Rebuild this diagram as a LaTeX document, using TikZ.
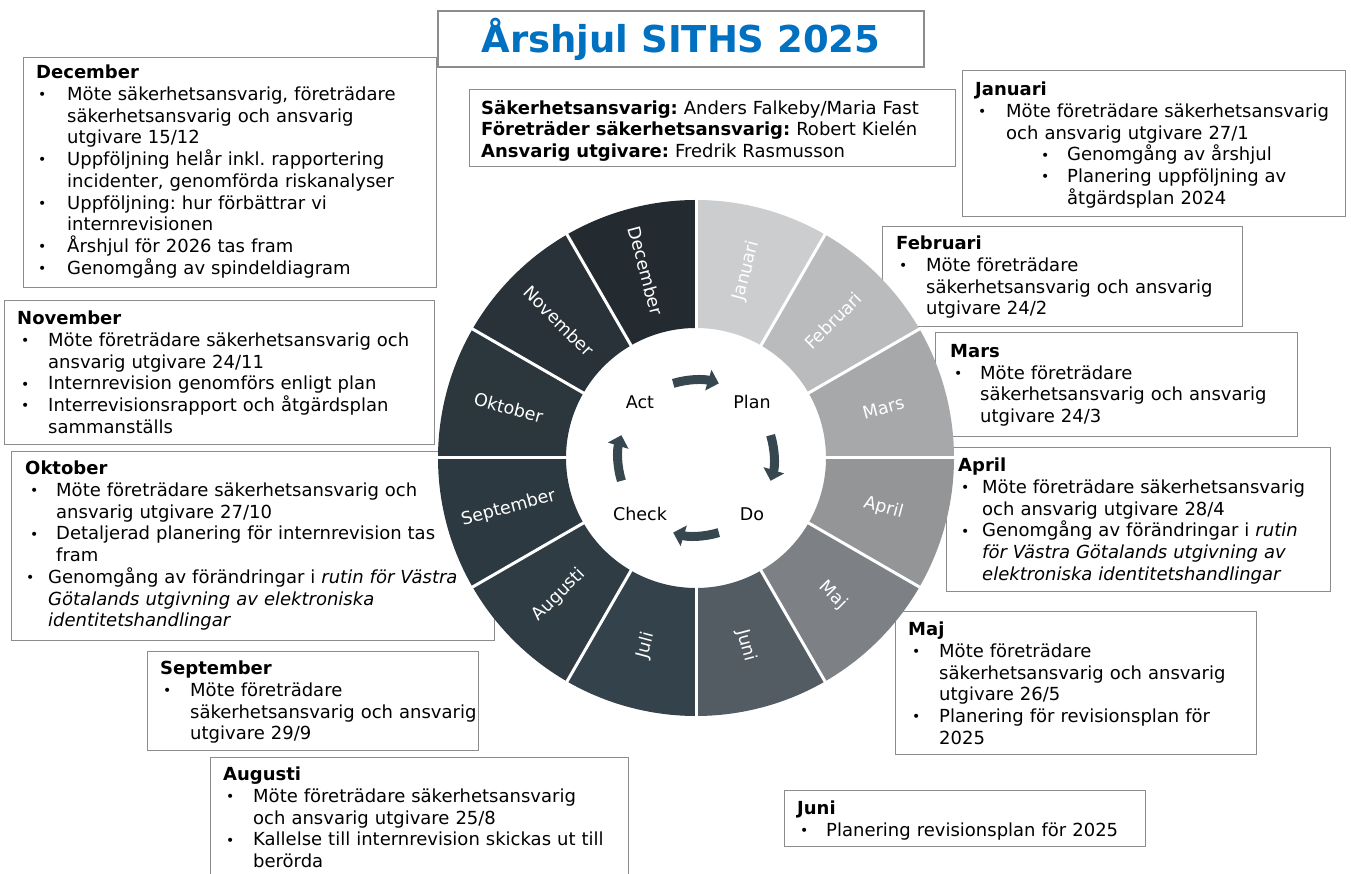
\documentclass[tikz,border=0pt]{standalone}
\usepackage{fontspec}
\setmainfont{DejaVu Sans}
\usetikzlibrary{arrows.meta}

\definecolor{titleblue}{HTML}{0070C0}
\definecolor{boxgray}{HTML}{8C8C8C}
\definecolor{cycdark}{HTML}{37474F}
\definecolor{mjan}{HTML}{CBCDCF}
\definecolor{mfeb}{HTML}{B9BBBD}
\definecolor{mmar}{HTML}{A6A8AA}
\definecolor{mapr}{HTML}{939597}
\definecolor{mmaj}{HTML}{7D8185}
\definecolor{mjun}{HTML}{535B63}
\definecolor{mjul}{HTML}{34424B}
\definecolor{maug}{HTML}{2F3C44}
\definecolor{msep}{HTML}{2D3940}
\definecolor{mokt}{HTML}{2B363D}
\definecolor{mnov}{HTML}{283238}
\definecolor{mdec}{HTML}{232B30}

\frenchspacing
\newcommand{\bodyfont}{\fontsize{18}{21.7}\selectfont}
\newcommand{\smallbul}{\raisebox{0.8pt}{\fontsize{14}{14}\selectfont\textbullet}}
\newcommand{\mhead}[1]{\noindent\textbf{#1}\par}
\newcommand{\mitem}[3]{\noindent\hangindent=#2pt\hangafter=1\hspace*{#1pt}\makebox[\dimexpr#2pt-#1pt\relax][l]{\smallbul}#3\par}

\begin{document}
\begin{tikzpicture}[x=1pt, y=1pt,
  mbox/.style={draw=boxgray, line width=1.3pt, fill=white, inner sep=0pt},
  mtext/.style={anchor=north west, inner sep=0pt, text width=#1, font=\bodyfont},
  monthlbl/.style={text=white, font=\fontsize{17.5}{20}\selectfont, inner sep=0pt},
  phase/.style={font=\fontsize{17.5}{20}\selectfont, inner sep=0pt},
  cyc/.style={cycdark, line width=9pt, -{Triangle[width=21pt,length=11pt]}}]
\useasboundingbox (0,0) rectangle (1351,874);

% title
\node[mbox, minimum width=486pt, minimum height=56pt, text=titleblue,
  font=\fontsize{37}{40}\selectfont\bfseries] (title) at (681,835) {Årshjul SITHS 2025};

% roles
\node[mbox, anchor=north west, minimum width=486pt, minimum height=77pt] (roles) at (469,785) {};
\node[mtext=470pt] (rolestxt) at (481,774) {\noindent\textbf{Säkerhetsansvarig:} Anders Falkeby/Maria Fast\newline
  \textbf{Företräder säkerhetsansvarig:} Robert Kielén\newline
  \textbf{Ansvarig utgivare:} Fredrik Rasmusson};

% left boxes
\node[mbox, anchor=north west, minimum width=413pt, minimum height=230pt] (decbox) at (23,817) {};
\node[mtext=406pt] (dectxt) at (36,809) {\mhead{December}
  \mitem{2}{31}{Möte säkerhetsansvarig, företrädare\newline säkerhetsansvarig och ansvarig\newline utgivare 15/12}
  \mitem{2}{31}{Uppföljning helår inkl. rapportering\newline incidenter, genomförda riskanalyser}
  \mitem{2}{31}{Uppföljning: hur förbättrar vi\newline internrevisionen}
  \mitem{2}{31}{Årshjul för 2026 tas fram}
  \mitem{2}{31}{Genomgång av spindeldiagram}};

\node[mbox, anchor=north west, minimum width=430pt, minimum height=144pt] (novbox) at (4,574) {};
\node[mtext=423pt] (novtxt) at (17,563) {\mhead{November}
  \mitem{4}{31}{Möte företrädare säkerhetsansvarig och\newline ansvarig utgivare 24/11}
  \mitem{4}{31}{Internrevision genomförs enligt plan}
  \mitem{4}{31}{Interrevisionsrapport och åtgärdsplan\newline sammanställs}};

\node[mbox, anchor=north west, minimum width=483pt, minimum height=189pt] (oktbox) at (11,423) {};
\node[mtext=475pt] (okttxt) at (25,413) {\mhead{Oktober}
  \mitem{5}{31}{Möte företrädare säkerhetsansvarig och\newline ansvarig utgivare 27/10}
  \mitem{5}{31}{Detaljerad planering för internrevision tas\newline fram}
  \mitem{1}{23}{Genomgång av förändringar i \textit{rutin för Västra\newline Götalands utgivning av elektroniska\newline identitetshandlingar}}};

\node[mbox, anchor=north west, minimum width=331pt, minimum height=99pt] (sepbox) at (147,223) {};
\node[mtext=324pt] (septxt) at (160,213) {\mhead{September}
  \mitem{3}{30}{Möte företrädare\newline säkerhetsansvarig och ansvarig\newline utgivare 29/9}};

\node[mbox, anchor=north west, minimum width=418pt, minimum height=130pt] (augbox) at (210,117) {};
\node[mtext=411pt] (augtxt) at (223,107) {\mhead{Augusti}
  \mitem{3}{30}{Möte företrädare säkerhetsansvarig\newline och ansvarig utgivare 25/8}
  \mitem{3}{30}{Kallelse till internrevision skickas ut till\newline berörda}};

% right boxes
\node[mbox, anchor=north west, minimum width=383pt, minimum height=146pt] (janbox) at (962,804) {};
\node[mtext=376pt] (jantxt) at (975,792) {\mhead{Januari}
  \mitem{3}{31}{Möte företrädare säkerhetsansvarig\newline och ansvarig utgivare 27/1}
  \mitem{66}{92}{Genomgång av årshjul}
  \mitem{66}{92}{Planering uppföljning av\newline åtgärdsplan 2024}};

\node[mbox, anchor=north west, minimum width=360pt, minimum height=100pt] (febbox) at (882,648) {};
\node[mtext=352pt] (febtxt) at (896,638) {\mhead{Februari}
  \mitem{3}{30}{Möte företrädare\newline säkerhetsansvarig och ansvarig\newline utgivare 24/2}};

\node[mbox, anchor=north west, minimum width=362pt, minimum height=104pt] (marbox) at (935,542) {};
\node[mtext=353pt] (martxt) at (950,530) {\mhead{Mars}
  \mitem{4}{30}{Möte företrädare\newline säkerhetsansvarig och ansvarig\newline utgivare 24/3}};

\node[mbox, anchor=north west, minimum width=384pt, minimum height=144pt] (aprbox) at (946,427) {};
\node[mtext=378pt] (aprtxt) at (958,416) {\mhead{April}
  \mitem{3}{24}{Möte företrädare säkerhetsansvarig\newline och ansvarig utgivare 28/4}
  \mitem{3}{24}{Genomgång av förändringar i \textit{rutin\newline för Västra Götalands utgivning av\newline elektroniska identitetshandlingar}}};

\node[mbox, anchor=north west, minimum width=361pt, minimum height=143pt] (majbox) at (895,263) {};
\node[mtext=354pt] (majtxt) at (908,252) {\mhead{Maj}
  \mitem{4}{31}{Möte företrädare\newline säkerhetsansvarig och ansvarig\newline utgivare 26/5}
  \mitem{4}{31}{Planering för revisionsplan för\newline 2025}};

\node[mbox, anchor=north west, minimum width=361pt, minimum height=56pt] (junbox) at (784,84) {};
\node[mtext=354pt] (juntxt) at (797,73) {\mhead{Juni}
  \mitem{3}{29}{Planering revisionsplan för 2025}};

% wheel
\coordinate (hub) at (696,416);
\begin{scope}[shift={(hub)}]
\foreach \m/\c [count=\i from 0] in {Januari/mjan, Februari/mfeb, Mars/mmar, April/mapr,
    Maj/mmaj, Juni/mjun, Juli/mjul, Augusti/maug, September/msep, Oktober/mokt,
    November/mnov, December/mdec}{
  \pgfmathsetmacro\ang{75-30*\i}
  \pgfmathsetmacro\sa{\ang+15}
  \pgfmathsetmacro\ea{\ang-15}
  \pgfmathsetmacro\rot{\i<6 ? \ang : \ang+180}
  \fill[\c] (\sa:130) arc[start angle=\sa, end angle=\ea, radius=130]
    -- (\ea:258) arc[start angle=\ea, end angle=\sa, radius=258] -- cycle;
  \node[monthlbl, rotate=\rot] (m\i) at (\ang:194) {\m};
}
% separators
\foreach \i in {0,...,11}
  \draw[white, line width=3pt] (90-30*\i:128) -- (90-30*\i:260);

% cycle
\node[phase] (act) at (-56,56) {Act};
\node[phase] (plan) at (56,56) {Plan};
\node[phase] (do) at (56,-56) {Do};
\node[phase] (check) at (-56,-56) {Check};
\coordinate (c1) at (107:78);
\coordinate (c2) at (17:78);
\coordinate (c3) at (-73:78);
\coordinate (c4) at (197:78);
\draw[cyc] (c1) arc[start angle=107, end angle=73, radius=78];
\draw[cyc] (c2) arc[start angle=17, end angle=-17, radius=78];
\draw[cyc] (c3) arc[start angle=-73, end angle=-107, radius=78];
\draw[cyc] (c4) arc[start angle=197, end angle=163, radius=78];
\end{scope}

\end{tikzpicture}
\end{document}
